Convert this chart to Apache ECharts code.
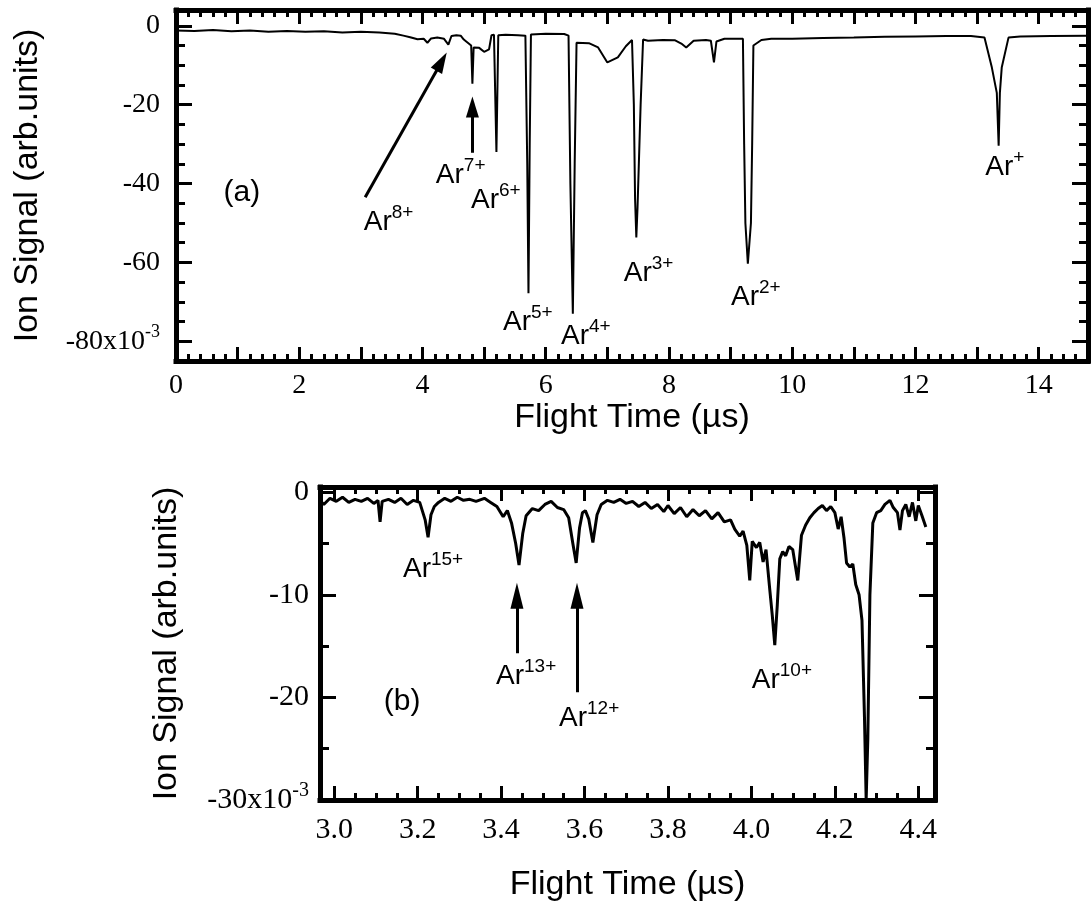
<!DOCTYPE html>
<html><head><meta charset="utf-8">
<script src="https://cdn.jsdelivr.net/npm/echarts@6/dist/echarts.min.js"></script>
<style>html,body{margin:0;padding:0;background:#fff}#c{width:1092px;height:910px}</style>
</head><body><div id="c"></div>
<script>
// ---------- Panel (a): flight time (µs) and ion signal (x10^-3) ----------
const timeA = [0,0.3,0.6,0.9,1.2,1.5,1.8,2.1,2.4,2.7,3.0,3.3,3.55,3.69,3.8,3.92,4.02,4.08,4.14,4.24,4.35,4.42,4.47,4.55,4.62,4.67,4.75,4.79,4.81,4.83,4.92,5.0,5.08,5.12,5.16,5.2,5.23,5.35,5.55,5.67,5.7,5.72,5.74,5.76,6.0,6.3,6.37,6.4,6.44,6.47,6.5,6.7,6.85,7.0,7.17,7.3,7.4,7.43,7.45,7.47,7.49,7.54,7.58,7.66,7.9,8.1,8.2,8.28,8.4,8.6,8.68,8.73,8.77,8.9,9.1,9.2,9.22,9.24,9.28,9.33,9.35,9.37,9.5,9.66,10.0,10.5,11.0,11.5,12.0,12.5,12.9,13.12,13.24,13.32,13.35,13.37,13.4,13.51,13.7,14.2,14.8];
const signalA = [-1.2,-1.3,-1.1,-1.4,-1.2,-1.5,-1.3,-1.5,-1.4,-1.7,-1.5,-1.7,-2.0,-2.5,-2.9,-3.4,-3.3,-4.3,-3.2,-3.0,-3.3,-4.8,-2.6,-2.4,-2.5,-3.5,-4.5,-5.0,-14.7,-5.5,-5.6,-6.6,-6.0,-2.4,-2.3,-32.0,-2.4,-2.3,-2.4,-2.5,-35.0,-67.8,-30.0,-2.2,-2.0,-2.1,-2.5,-40.0,-73.0,-35.0,-4.3,-4.4,-5.5,-9.3,-8.0,-5.2,-3.6,-20.0,-44.0,-53.7,-46.0,-20.0,-3.5,-3.8,-3.6,-3.7,-4.5,-5.5,-3.8,-3.6,-3.8,-9.3,-4.0,-3.3,-3.3,-3.3,-30.0,-50.0,-60.3,-50.0,-30.0,-5.0,-3.6,-3.3,-3.3,-3.1,-3.0,-2.8,-2.7,-2.6,-2.6,-3.0,-10.6,-17.0,-30.4,-17.0,-10.6,-3.0,-2.7,-2.6,-2.5];

// ---------- Panel (b) ----------
const timeB = [2.966,2.975,2.99,3.005,3.02,3.035,3.05,3.065,3.08,3.095,3.105,3.11,3.115,3.13,3.145,3.16,3.175,3.19,3.205,3.218,3.225,3.232,3.24,3.25,3.265,3.28,3.295,3.31,3.325,3.34,3.36,3.375,3.39,3.405,3.415,3.425,3.435,3.443,3.452,3.46,3.475,3.49,3.505,3.52,3.535,3.55,3.562,3.572,3.58,3.588,3.595,3.602,3.61,3.62,3.63,3.64,3.655,3.67,3.685,3.7,3.715,3.73,3.745,3.76,3.775,3.79,3.8,3.815,3.83,3.845,3.86,3.875,3.89,3.905,3.92,3.935,3.95,3.96,3.972,3.98,3.989,3.996,4.002,4.012,4.02,4.028,4.035,4.044,4.05,4.056,4.062,4.068,4.075,4.082,4.09,4.099,4.111,4.12,4.13,4.14,4.15,4.16,4.17,4.18,4.19,4.2,4.208,4.215,4.222,4.228,4.236,4.243,4.25,4.258,4.265,4.271,4.275,4.279,4.284,4.291,4.3,4.31,4.32,4.332,4.34,4.35,4.356,4.362,4.37,4.378,4.386,4.394,4.4,4.408,4.418];
const signalB = [-0.8,-1.2,-0.6,-0.9,-0.5,-1.0,-0.7,-0.9,-0.6,-1.1,-0.8,-2.9,-0.9,-0.7,-1.0,-0.6,-1.2,-0.8,-1.0,-2.7,-4.4,-2.2,-1.4,-1.0,-0.6,-0.9,-0.5,-0.8,-0.7,-0.9,-0.6,-1.0,-1.4,-2.4,-1.8,-3.0,-5.0,-7.1,-4.0,-2.3,-1.6,-1.8,-1.2,-0.9,-1.5,-1.7,-2.5,-5.0,-6.9,-3.5,-2.0,-1.8,-2.6,-4.9,-2.2,-1.2,-0.8,-1.0,-0.7,-1.1,-0.9,-1.4,-1.0,-1.6,-1.2,-1.9,-1.3,-2.1,-1.5,-2.4,-1.7,-2.3,-1.8,-2.6,-2.0,-2.9,-2.7,-3.6,-4.3,-3.8,-5.2,-8.6,-4.8,-5.4,-4.9,-6.8,-5.6,-9.5,-12.0,-14.9,-11.0,-6.5,-5.8,-6.2,-5.3,-5.6,-8.6,-4.2,-3.2,-2.5,-2.0,-1.6,-1.3,-1.8,-1.4,-2.0,-3.6,-2.4,-4.5,-6.9,-7.3,-7.0,-9.0,-10.0,-12.5,-22.0,-30.0,-24.0,-10.0,-3.0,-2.0,-1.8,-1.2,-0.8,-1.5,-2.0,-3.7,-1.8,-1.2,-2.4,-1.0,-2.8,-1.3,-2.2,-3.4];

// ---------- Annotations ----------
const ionLabelsA = ['8+','7+','6+','5+','4+','3+','2+','+'];
const ionLabelTA = [3.45,4.62,5.19,5.71,6.65,7.67,9.41,13.45];
const ionLabelVA = [-49.9,-38.0,-44.3,-75.2,-78.7,-62.8,-68.9,-36.0];
const panelLabelA = {text:'(a)', t:1.07, v:-42.3};
// arrow shafts (tail -> head centre) and arrow heads (centre, rotation in degrees)
const arrowA = {tailT:[3.07,4.81], tailV:[-43.5,-32.2], headT:[4.31,4.81], headV:[-9.1,-20.6], headRot:[-29.5,0]};

const ionLabelsB = ['15+','13+','12+','10+'];
const ionLabelTB = [3.237,3.46,3.611,4.073];
const ionLabelVB = [-7.5,-17.9,-22.0,-18.3];
const panelLabelB = {text:'(b)', t:3.163, v:-20.4};
const arrowB = {tailT:[3.438,3.582], tailV:[-15.7,-19.5], headT:[3.438,3.582], headV:[-10.1,-10.1], headRot:[0,0]};

// ---------- Axis ticks / labels ----------
const xMajorA = [0,1,2,3,4,5,6,7,8,9,10,11,12,13,14];
const xLabelA = [0,2,4,6,8,10,12,14];
const yMajorA = [-80,-60,-40,-20,0];
const yMinorA = [-85,-75,-70,-65,-55,-50,-45,-35,-30,-25,-15,-10,-5];
const xMajorB = [3.0,3.2,3.4,3.6,3.8,4.0,4.2,4.4];
const xLabelB = ['3.0','3.2','3.4','3.6','3.8','4.0','4.2','4.4'];
const yMajorB = [-30,-20,-10,0];
const yMinorB = [-25,-15,-5];
const xMinorA = []; for (let i = 0; i <= 74; i++) xMinorA.push(+(i*0.2).toFixed(1));
const xMinorB = []; for (let i = 0; i <= 28; i++) xMinorB.push(+(3 + i*0.05).toFixed(2));

const SERIF = 'Liberation Serif', SANS = 'Liberation Sans';
const rangeA = {xmin:0, xmax:14.8, ymin:-85, ymax:4};
const rangeB = {xmin:2.966, xmax:4.44, ymin:-30, ymax:0.5};

function ax(o) {
  return {
    type:'value', gridIndex:o.grid, position:o.pos, min:o.min, max:o.max,
    axisLine:{show:!!o.line, onZero:false, lineStyle:{color:'#000', width:5, cap:'square'}},
    axisTick:{show:true, inside:true, length:o.len, customValues:o.ticks, lineStyle:{color:'#000', width:3}},
    axisLabel: o.label ? Object.assign({show:true, color:'#000'}, o.label) : {show:false},
    splitLine:{show:false}, minorTick:{show:false},
    name:o.name || '', nameLocation:'middle', nameGap:o.nameGap || 0,
    nameTextStyle:{fontFamily:SANS, fontSize:34, color:'#000'}
  };
}
const yRich = (fs) => ({
  n:{fontFamily:SERIF, fontSize:fs, lineHeight:fs+9, color:'#000'},
  s:{fontFamily:SERIF, fontSize:Math.round(fs*0.66), lineHeight:Math.round(fs*0.66), verticalAlign:'top', color:'#000'}
});
const yFmt = (bottom) => (v) => (Math.abs(v-bottom) < 1e-9 ? '{n|' + v + 'x10}{s|-3}' : '{n|' + v + '}');

const xAxes = [
  ax({grid:0,pos:'bottom',min:rangeA.xmin,max:rangeA.xmax,line:true,len:14,ticks:xMajorA,
      label:{customValues:xLabelA, fontFamily:SERIF, fontSize:28, margin:11},
      name:'Flight Time (\u00b5s)', nameGap:36}),
  ax({grid:0,pos:'bottom',min:rangeA.xmin,max:rangeA.xmax,len:7,ticks:xMinorA}),
  ax({grid:0,pos:'top',min:rangeA.xmin,max:rangeA.xmax,line:true,len:14,ticks:xMajorA}),
  ax({grid:0,pos:'top',min:rangeA.xmin,max:rangeA.xmax,len:7,ticks:xMinorA}),
  ax({grid:1,pos:'bottom',min:rangeB.xmin,max:rangeB.xmax,line:true,len:14,ticks:xMajorB,
      label:{customValues:xMajorB, formatter:(v)=>xLabelB[xMajorB.findIndex(m=>Math.abs(m-v)<1e-6)] || '', fontFamily:SERIF, fontSize:30, margin:15},
      name:'Flight Time (\u00b5s)', nameGap:68}),
  ax({grid:1,pos:'bottom',min:rangeB.xmin,max:rangeB.xmax,len:7,ticks:xMinorB}),
  ax({grid:1,pos:'top',min:rangeB.xmin,max:rangeB.xmax,line:true,len:14,ticks:xMajorB}),
  ax({grid:1,pos:'top',min:rangeB.xmin,max:rangeB.xmax,len:7,ticks:xMinorB})
];
const yAxes = [
  ax({grid:0,pos:'left',min:rangeA.ymin,max:rangeA.ymax,line:true,len:16,ticks:yMajorA,
      label:{customValues:yMajorA, formatter:yFmt(-80), rich:yRich(28), margin:16},
      name:'Ion Signal (arb.units)', nameGap:131}),
  ax({grid:0,pos:'left',min:rangeA.ymin,max:rangeA.ymax,len:9,ticks:yMinorA}),
  ax({grid:0,pos:'right',min:rangeA.ymin,max:rangeA.ymax,line:true,len:16,ticks:yMajorA}),
  ax({grid:0,pos:'right',min:rangeA.ymin,max:rangeA.ymax,len:9,ticks:yMinorA}),
  ax({grid:1,pos:'left',min:rangeB.ymin,max:rangeB.ymax,line:true,len:16,ticks:yMajorB,
      label:{customValues:yMajorB, formatter:yFmt(-30), rich:yRich(30), margin:11},
      name:'Ion Signal (arb.units)', nameGap:136}),
  ax({grid:1,pos:'left',min:rangeB.ymin,max:rangeB.ymax,len:9,ticks:yMinorB}),
  ax({grid:1,pos:'right',min:rangeB.ymin,max:rangeB.ymax,line:true,len:16,ticks:yMajorB}),
  ax({grid:1,pos:'right',min:rangeB.ymin,max:rangeB.ymax,len:9,ticks:yMinorB})
];

const labelRich = {
  a:{fontFamily:SANS, fontSize:28, lineHeight:38, color:'#000'},
  s:{fontFamily:SANS, fontSize:19, lineHeight:19, verticalAlign:'top', color:'#000'},
  p:{fontFamily:SANS, fontSize:30, lineHeight:34, color:'#000'}
};
function labelData(texts, ts, vs, panel) {
  const d = texts.map((s, i) => [ts[i], vs[i], '{a|Ar}{s|' + s + '}']);
  d.push([panel.t, panel.v, '{p|' + panel.text + '}']);
  return d;
}
function traceSeries(xi, yi, times, values, width, arrows) {
  return {
    type:'line', xAxisIndex:xi, yAxisIndex:yi, showSymbol:false, silent:true,
    data:times.map((t,i)=>[t, values[i]]),
    itemStyle:{color:'#000'}, lineStyle:{color:'#000', width:width},
    markLine:{silent:true, symbol:['none','none'], animation:false,
      lineStyle:{color:'#000', width:3, type:'solid', opacity:1}, label:{show:false}, emphasis:{disabled:true},
      data:arrows.tailT.map((t, i) => [{coord:[t, arrows.tailV[i]]}, {coord:[arrows.headT[i], arrows.headV[i]]}])}
  };
}
function headSeries(xi, yi, arrows, size) {
  return {
    type:'scatter', xAxisIndex:xi, yAxisIndex:yi, silent:true, z:6,
    data:arrows.headT.map((t, i) => [t, arrows.headV[i], arrows.headRot[i]]),
    symbol:'triangle', symbolSize:size, symbolRotate:(d)=>d[2],
    itemStyle:{color:'#000', opacity:1}
  };
}
function labelSeries(xi, yi, data) {
  return {
    type:'scatter', xAxisIndex:xi, yAxisIndex:yi, data:data, symbolSize:0,
    itemStyle:{color:'#000', opacity:1}, silent:true, z:5,
    label:{show:true, position:'inside', color:'#000', opacity:1, textBorderWidth:0, formatter:(p)=>p.data[2], rich:labelRich}
  };
}

const option = {
  animation:false,
  backgroundColor:'#fff',
  grid:[
    {left:176, top:10, width:912, height:351, outerBoundsMode:'none'},
    {left:320, top:487, width:615, height:313, outerBoundsMode:'none'}
  ],
  xAxis:xAxes,
  yAxis:yAxes,
  series:[
    traceSeries(0, 0, timeA, signalA, 2, arrowA),
    traceSeries(4, 4, timeB, signalB, 3, arrowB),
    headSeries(0, 0, arrowA, [13, 21]),
    headSeries(4, 4, arrowB, [13, 26]),
    labelSeries(0, 0, labelData(ionLabelsA, ionLabelTA, ionLabelVA, panelLabelA)),
    labelSeries(4, 4, labelData(ionLabelsB, ionLabelTB, ionLabelVB, panelLabelB))
  ]
};
const chart = echarts.init(document.getElementById('c'), null, {renderer:'canvas', width:1092, height:910});
chart.setOption(option);
</script>
</body></html>
